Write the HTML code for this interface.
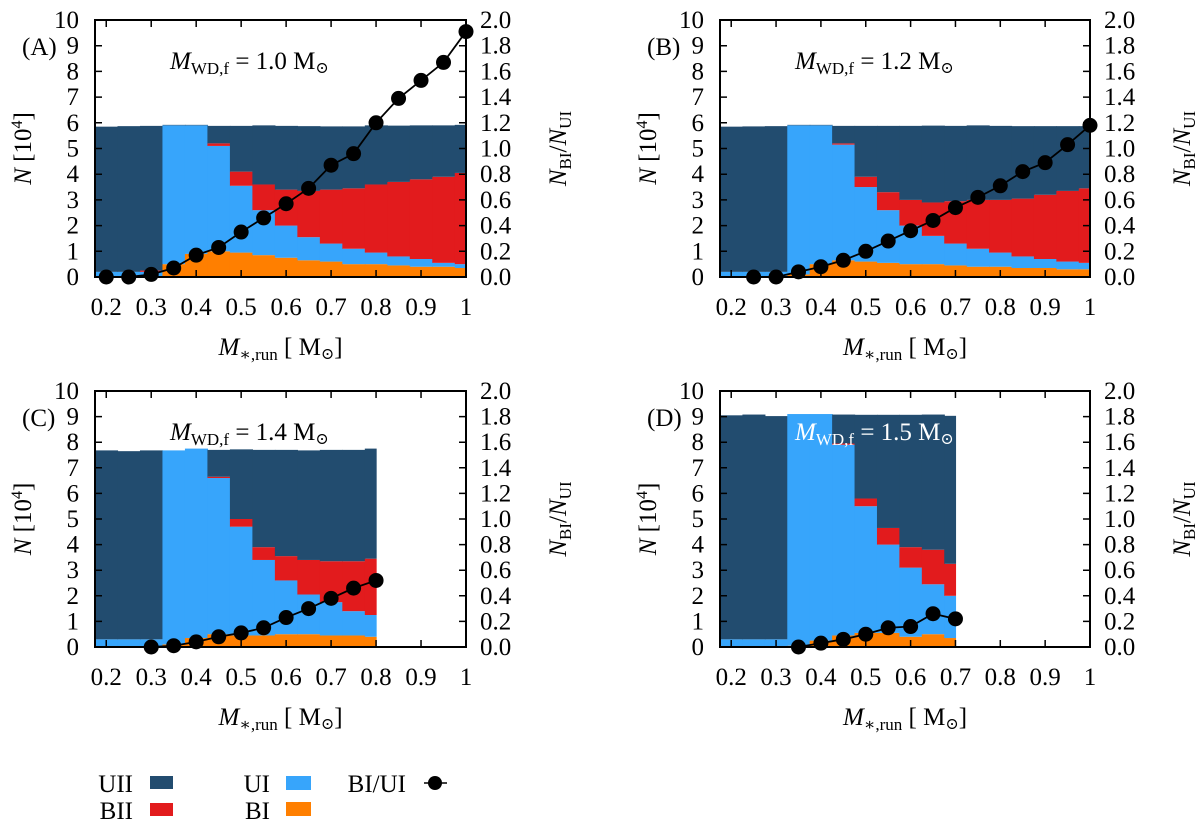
<!DOCTYPE html>
<html><head><meta charset="utf-8">
<style>
html,body{margin:0;padding:0;background:#fff;}
svg, svg text{font-family:"Liberation Serif","DejaVu Serif",serif;}
svg{display:block;}
</style></head>
<body>
<svg id="fig" width="1200" height="827" viewBox="0 0 1200 827" xmlns="http://www.w3.org/2000/svg" font-family="Liberation Serif, serif">
<g font-size="25">
  <text x="133" y="792" text-anchor="end">UII</text>
  <rect x="150" y="776" width="23" height="13" fill="#224C6F"/>
  <text x="133" y="819" text-anchor="end">BII</text>
  <rect x="150" y="803" width="23" height="13" fill="#E21B1D"/>
  <text x="270" y="792" text-anchor="end">UI</text>
  <rect x="286" y="776" width="25" height="14" fill="#37A5FB"/>
  <text x="270" y="819" text-anchor="end">BI</text>
  <rect x="286" y="802" width="25" height="14" fill="#FF7F00"/>
  <text x="406" y="792" text-anchor="end">BI/UI</text>
  <line x1="424" y1="783" x2="447" y2="783" stroke="#000" stroke-width="1.5"/>
  <circle cx="435" cy="783" r="7" fill="#000"/>
</g>
</svg>
<script>
// Bin centres (M_*,run)
const centersA = [0.2,0.25,0.3,0.35,0.4,0.45,0.5,0.55,0.6,0.65,0.7,0.75,0.8,0.85,0.9,0.95,1.0];
const centersC = [0.2,0.25,0.3,0.35,0.4,0.45,0.5,0.55,0.6,0.65,0.7,0.75,0.8];
const centersD = [0.2,0.25,0.3,0.35,0.4,0.45,0.5,0.55,0.6,0.65,0.7];
// Cumulative stack tops (10^4): BI, BI+UI, BI+UI+BII, total
const biA  = [0,0,0.03,0.5,0.9,1.0,0.95,0.85,0.75,0.65,0.6,0.5,0.5,0.45,0.4,0.4,0.35];
const uiA  = [0.2,0.2,0.2,5.9,5.9,5.1,3.55,2.6,2.0,1.55,1.3,1.1,0.95,0.8,0.7,0.55,0.5];
const biiA = [0.2,0.2,0.25,5.9,5.9,5.2,4.1,3.6,3.4,3.35,3.4,3.45,3.6,3.7,3.8,3.9,4.05];
const totA = [5.85,5.87,5.88,5.92,5.92,5.88,5.88,5.9,5.88,5.87,5.86,5.86,5.9,5.89,5.9,5.9,5.92];
const biB  = [0,0,0,0.1,0.5,0.65,0.6,0.55,0.5,0.5,0.45,0.4,0.4,0.35,0.35,0.3,0.3];
const uiB  = [0.2,0.2,0.2,5.9,5.9,5.15,3.5,2.6,2.0,1.6,1.3,1.1,0.95,0.8,0.7,0.6,0.55];
const biiB = [0.2,0.2,0.2,5.9,5.9,5.2,3.9,3.3,3.0,2.9,2.95,3.0,3.0,3.05,3.2,3.35,3.45];
const totB = [5.85,5.86,5.87,5.92,5.92,5.88,5.88,5.88,5.88,5.89,5.88,5.9,5.88,5.87,5.87,5.87,5.87];
const biC  = [0,0,0,0.1,0.35,0.5,0.45,0.45,0.5,0.5,0.45,0.45,0.4];
const uiC  = [0.3,0.3,0.3,7.68,7.75,6.6,4.7,3.4,2.6,2.05,1.75,1.4,1.25];
const biiC = [0.3,0.3,0.3,7.68,7.75,6.65,5.0,3.9,3.55,3.4,3.35,3.35,3.45];
const totC = [7.68,7.65,7.68,7.68,7.75,7.7,7.72,7.7,7.7,7.68,7.7,7.7,7.75];
const biD  = [0,0,0,0.05,0.25,0.45,0.55,0.55,0.4,0.5,0.35];
const uiD  = [0.3,0.3,0.3,9.1,9.1,7.9,5.5,4.0,3.1,2.45,2.0];
const biiD = [0.3,0.3,0.3,9.1,9.1,7.95,5.8,4.65,3.9,3.8,3.25];
const totD = [9.05,9.08,9.02,9.1,9.1,9.08,9.07,9.07,9.07,9.08,9.03];
// Ratio N_BI/N_UI
const ratioXA = [0.2,0.25,0.3,0.35,0.4,0.45,0.5,0.55,0.6,0.65,0.7,0.75,0.8,0.85,0.9,0.95,1.0];
const ratioA  = [0,0,0.02,0.07,0.17,0.23,0.35,0.46,0.57,0.69,0.87,0.96,1.2,1.39,1.53,1.67,1.91];
const ratioXB = [0.25,0.3,0.35,0.4,0.45,0.5,0.55,0.6,0.65,0.7,0.75,0.8,0.85,0.9,0.95,1.0];
const ratioB  = [0,0,0.04,0.08,0.13,0.2,0.28,0.36,0.44,0.54,0.62,0.71,0.82,0.89,1.03,1.18];
const ratioXC = [0.3,0.35,0.4,0.45,0.5,0.55,0.6,0.65,0.7,0.75,0.8];
const ratioC  = [0,0.01,0.04,0.08,0.11,0.15,0.23,0.3,0.38,0.46,0.52];
const ratioXD = [0.35,0.4,0.45,0.5,0.55,0.6,0.65,0.7];
const ratioD  = [0,0.03,0.06,0.1,0.15,0.16,0.26,0.22];
// Tick labels
const xTicks = [0.2,0.3,0.4,0.5,0.6,0.7,0.8,0.9,1.0];
const xTickLabels = ["0.2","0.3","0.4","0.5","0.6","0.7","0.8","0.9","1"];
const yTicks = [0,1,2,3,4,5,6,7,8,9,10];
const y2Ticks = [0,0.2,0.4,0.6,0.8,1.0,1.2,1.4,1.6,1.8,2.0];
const y2TickLabels = ["0.0","0.2","0.4","0.6","0.8","1.0","1.2","1.4","1.6","1.8","2.0"];

const NS = "http://www.w3.org/2000/svg";
const svg = document.getElementById("fig");
const COLORS = {bi:"#FF7F00", ui:"#37A5FB", bii:"#E21B1D", uii:"#224C6F"};
const FS = 25;
function mk(tag, attrs, parent){
  const e = document.createElementNS(NS, tag);
  for (const k in attrs) e.setAttribute(k, attrs[k]);
  parent.appendChild(e);
  return e;
}
function panel(p){
  const g = mk("g", {}, svg);
  
  
  const W = p.x1 - p.x0, H = p.y1 - p.y0;
  const xs = v => p.x0 + (v - 0.175) / (1.0 - 0.175) * W;
  const ys = v => p.y1 - v / 10 * H;
  const y2s = v => p.y1 - v / 2 * H;
  for (let i = 0; i < p.c.length; i++){
    const c = p.c[i];
    const last = i === p.c.length - 1;
    const l = xs(Math.max(0.175, c - 0.025));
    const r = xs(last ? c : c + 0.025);
    const segs = [["bi",0,p.bi[i]],["ui",p.bi[i],p.ui[i]],["bii",p.ui[i],p.bii[i]],["uii",p.bii[i],p.tot[i]]];
    for (const s of segs){
      if (s[2] - s[1] <= 0) continue;
      const rc = mk("rect", {x:l, y:ys(s[2]), width:r - l + 0.6, height:ys(s[1]) - ys(s[2]), fill:COLORS[s[0]]}, g);
      
      
    }
  }
  const fr = mk("rect", {x:p.x0, y:p.y0, width:W, height:H, fill:"none", stroke:"#000", "stroke-width":2}, g);
  
  
  let d = "";
  xTicks.forEach(v => { const x = xs(v); d += `M${x},${p.y1}v-7M${x},${p.y0}v7`; });
  yTicks.forEach(v => { const y = ys(v); d += `M${p.x0},${y}h7`; });
  y2Ticks.forEach(v => { const y = y2s(v); d += `M${p.x1},${y}h-7`; });
  const tk = mk("path", {d:d, stroke:"#000", "stroke-width":1.5, fill:"none"}, g);
  
  
  xTicks.forEach((v, i) => {
    const t = mk("text", {x:xs(v), y:p.y1 + 38, "text-anchor":"middle", "font-size":FS}, g);
    t.textContent = xTickLabels[i];
    
    
  });
  yTicks.forEach(v => {
    const t = mk("text", {x:p.x0 - 16, y:ys(v) + 8, "text-anchor":"end", "font-size":FS}, g);
    t.textContent = String(v);
    
    
  });
  y2Ticks.forEach((v, i) => {
    const t = mk("text", {x:p.x1 + 14, y:y2s(v) + 8, "text-anchor":"start", "font-size":FS}, g);
    t.textContent = y2TickLabels[i];
    
    
  });
  const pts = p.rx.map((x, i) => xs(x) + "," + y2s(p.r[i])).join(" ");
  const pl = mk("polyline", {points:pts, fill:"none", stroke:"#000", "stroke-width":1.8}, g);
  
  
  p.rx.forEach((x, i) => {
    const ci = mk("circle", {cx:xs(x), cy:y2s(p.r[i]), r:7.5, fill:"#000"}, g);
    
    
  });
  const pl2 = mk("text", {x:p.x0 - 73, y:p.y0 + 35, "font-size":FS}, g);
  pl2.textContent = "(" + p.id.toUpperCase() + ")";
  
  
  const an = mk("text", {x:p.x0 + 75, y:p.y0 + 49, "font-size":FS, fill:p.annColor}, g);
  an.innerHTML = '<tspan font-style="italic">M</tspan><tspan font-size="17" dy="5">WD,f</tspan><tspan dy="-5"> = ' + p.mass + ' M</tspan><tspan font-size="16" dy="4">⊙</tspan>';
  
  
  const xl = mk("text", {x:p.x0 + W * 0.5, y:p.y1 + 78, "text-anchor":"middle", "font-size":FS}, g);
  xl.innerHTML = '<tspan font-style="italic">M</tspan><tspan font-size="17" dy="5">∗,run</tspan><tspan dy="-5"> [ M</tspan><tspan font-size="16" dy="4">⊙</tspan><tspan dy="-4">]</tspan>';
  
  
  const yc = p.y0 + H / 2;
  const yl = mk("text", {x:0, y:0, "text-anchor":"middle", "font-size":FS, transform:`translate(${p.x0 - 64},${yc}) rotate(-90)`}, g);
  yl.innerHTML = '<tspan font-style="italic">N</tspan> [10<tspan font-size="16" dy="-9">4</tspan><tspan dy="9">]</tspan>';
  
  
  const y2 = mk("text", {x:0, y:0, "text-anchor":"middle", "font-size":FS, transform:`translate(${p.x1 + 100},${yc}) rotate(-90)`}, g);
  y2.innerHTML = '<tspan font-style="italic">N</tspan><tspan font-size="17" dy="5">BI</tspan><tspan dy="-5">/</tspan><tspan font-style="italic">N</tspan><tspan font-size="17" dy="5">UI</tspan>';
  
  
}
panel({id:"a", x0:95, x1:466, y0:20, y1:277, c:centersA, bi:biA, ui:uiA, bii:biiA, tot:totA, rx:ratioXA, r:ratioA, mass:"1.0", annColor:"#000"});
panel({id:"b", x0:720, x1:1090, y0:20, y1:277, c:centersA, bi:biB, ui:uiB, bii:biiB, tot:totB, rx:ratioXB, r:ratioB, mass:"1.2", annColor:"#000"});
panel({id:"c", x0:95, x1:466, y0:391, y1:647, c:centersC, bi:biC, ui:uiC, bii:biiC, tot:totC, rx:ratioXC, r:ratioC, mass:"1.4", annColor:"#000"});
panel({id:"d", x0:720, x1:1090, y0:391, y1:647, c:centersD, bi:biD, ui:uiD, bii:biiD, tot:totD, rx:ratioXD, r:ratioD, mass:"1.5", annColor:"#fff"});
</script>
</body></html>
